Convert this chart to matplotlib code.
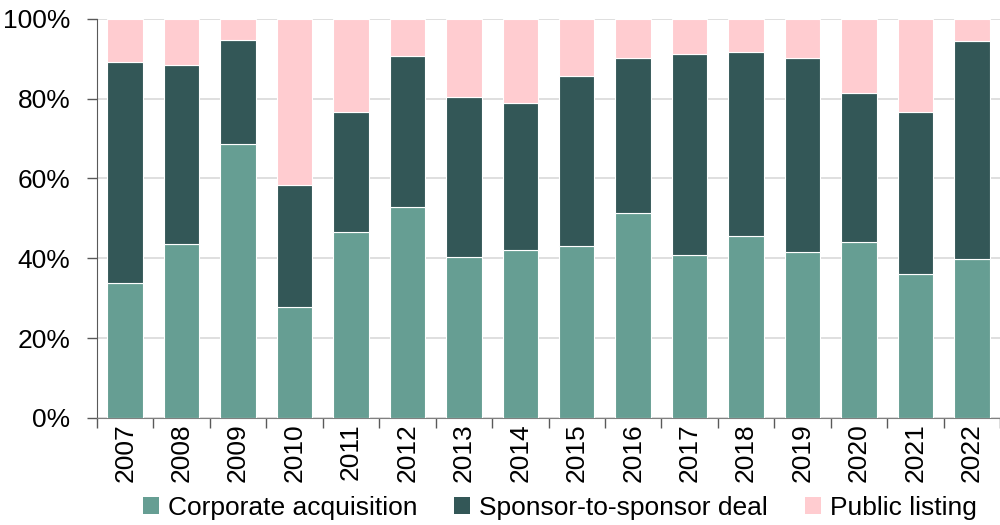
import matplotlib
matplotlib.use("Agg")
import matplotlib.pyplot as plt
from matplotlib.ticker import PercentFormatter
from matplotlib.patches import Patch
import numpy as np

years = ["2007", "2008", "2009", "2010", "2011", "2012", "2013", "2014",
         "2015", "2016", "2017", "2018", "2019", "2020", "2021", "2022"]
corporate = [33.8, 43.6, 68.7, 27.8, 46.6, 52.9, 40.4, 42.1,
             43.1, 51.4, 40.9, 45.6, 41.6, 44.1, 36.1, 39.8]
sponsor_top = [89.2, 88.5, 94.7, 58.4, 76.7, 90.7, 80.5, 78.9,
               85.7, 90.2, 91.2, 91.7, 90.2, 81.5, 76.7, 94.5]
sponsor = [t - c for t, c in zip(sponsor_top, corporate)]
public = [100 - t for t in sponsor_top]

labels = ["Corporate acquisition", "Sponsor-to-sponsor deal", "Public listing"]
colors = ["#669e93", "#335757", "#ffccd0"]

plt.rcParams["font.family"] = ["Liberation Sans", "DejaVu Sans"]

fig = plt.figure(figsize=(10, 5.25), dpi=100)
ax = fig.add_axes([0.097, 0.204, 0.903, 0.760])

x = np.arange(len(years))
bottom = np.zeros(len(years))
for vals, col in zip([corporate, sponsor, public], colors):
    ax.bar(x, vals, bottom=bottom, width=0.63, color=col,
           edgecolor="white", linewidth=0.8, zorder=3)
    bottom += np.array(vals)

ax.set_xlim(-0.5, len(years) - 0.5)
ax.set_ylim(0, 100)
ax.set_yticks([0, 20, 40, 60, 80, 100])
ax.yaxis.set_major_formatter(PercentFormatter(decimals=0))
ax.yaxis.grid(True, color="#d9d9d9", linewidth=1.2, zorder=0)

ax.set_xticks(x)
ax.set_xticklabels(years, rotation=90)
ax.set_xticks(np.arange(-0.5, len(years), 1), minor=True)
ax.tick_params(axis="x", which="major", length=0, labelsize=19, pad=4)
ax.tick_params(axis="x", which="minor", length=7, color="#595959", width=1)
ax.tick_params(axis="y", labelsize=19, length=7, color="#595959", width=1, pad=12)

for s in ["top", "right"]:
    ax.spines[s].set_visible(False)
ax.spines["left"].set_color("#595959")
ax.spines["bottom"].set_color("#808080")

handles = [Patch(facecolor=c, edgecolor="none") for c in colors]
fig.legend(handles, labels, loc="lower center", bbox_to_anchor=(0.56, -0.035),
           ncol=3, frameon=False, fontsize=19, handlelength=0.6, handleheight=0.6,
           handletextpad=0.35, columnspacing=1.4)

fig.savefig("out.png", dpi=100)
